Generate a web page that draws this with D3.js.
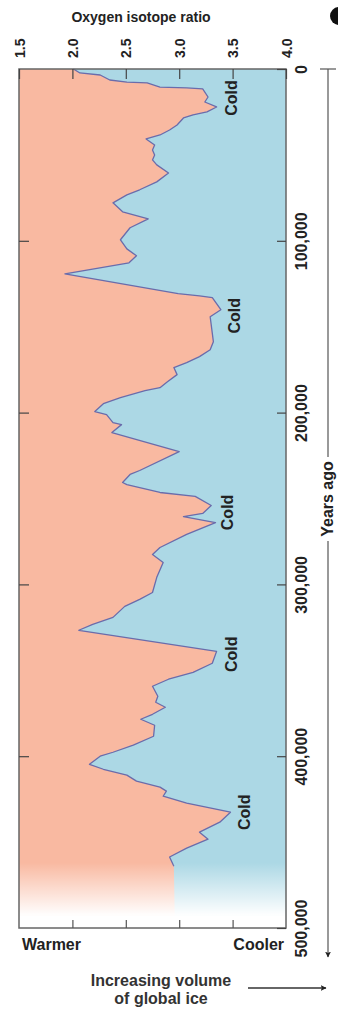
<!DOCTYPE html>
<html>
<head>
<meta charset="utf-8">
<script src="https://cdn.jsdelivr.net/npm/d3@7"></script>
<style>
  body { margin: 0; background: #fff; }
  svg text { font-family: "Liberation Sans", Arial, sans-serif; font-weight: bold; fill: #222; }
</style>
</head>
<body>
<script>
// oxygen isotope record
var yearsAgo = [0, 2300, 3500, 6400, 7600, 8100, 10500, 11000, 11600, 16300, 19200, 22100, 25000, 26700,
  28500, 32600, 35500, 38400, 40700, 44200, 47100, 50000, 52900, 55800, 60500, 65700, 70300, 73300,
  77900, 83100, 87200, 92400, 99400, 104700, 108700, 112800, 119200, 130800, 132000, 133100, 140100,
  144200, 158700, 163400, 167400, 170900, 173800, 177900, 182000, 185500, 187200, 191300, 194800,
  199400, 201200, 205800, 207000, 211600, 222700, 233700, 236000, 240700, 241900, 246500, 248800,
  254100, 258700, 260500, 264000, 270900, 278500, 282600, 287200, 295900, 304700, 308700, 312800,
  319200, 323300, 326700, 339000, 345900, 351200, 355200, 359300, 365100, 368600, 371500, 375600,
  378500, 382000, 388400, 393600, 397700, 400000, 404700, 407600, 411000, 414500, 418000, 420300,
  423300, 427300, 432600, 438400, 444200, 448300, 453500, 458700, 464000];
var isoRatio = [2.01, 2.07, 2.26, 2.35, 2.51, 2.70, 2.82, 3.07, 3.22, 3.27, 3.24, 3.35, 3.26, 3.13,
  3.04, 2.98, 2.91, 2.82, 2.69, 2.77, 2.75, 2.77, 2.75, 2.79, 2.90, 2.79, 2.63, 2.51,
  2.38, 2.47, 2.71, 2.54, 2.45, 2.51, 2.60, 2.53, 1.93, 2.99, 3.19, 3.31, 3.39,
  3.29, 3.32, 3.29, 3.19, 3.07, 2.95, 2.98, 2.89, 2.82, 2.68, 2.45, 2.29,
  2.21, 2.32, 2.38, 2.46, 2.37, 3.00, 2.63, 2.54, 2.47, 2.51, 2.82, 3.15,
  3.30, 3.22, 3.04, 3.34, 3.07, 2.82, 2.75, 2.85, 2.79, 2.75, 2.63, 2.49,
  2.38, 2.19, 2.06, 3.35, 3.31, 3.13, 2.90, 2.75, 2.80, 2.78, 2.87, 2.75,
  2.64, 2.77, 2.76, 2.57, 2.38, 2.26, 2.16, 2.29, 2.51, 2.60, 2.82, 2.88,
  2.85, 3.07, 3.48, 3.38, 3.19, 3.27, 3.07, 2.91, 2.95];

// "Cold" peaks (label centre along the time axis, baseline on the ratio axis)
var coldYears = [16900, 143600, 258100, 340700, 432600];
var coldRatio = [3.54, 3.57, 3.50, 3.54, 3.66];

var ratioTicks = [1.5, 2.0, 2.5, 3.0, 3.5, 4.0];
var yearTicks = [0, 100000, 200000, 300000, 400000, 500000];

var W = 338, H = 1012;
var box = {left: 19, right: 286, top: 69, bottom: 928};

var svg = d3.select('body').append('svg')
  .attr('width', W)
  .attr('height', H);

var x = d3.scaleLinear().domain([1.5, 4.0]).range([box.left, box.right]);
var y = d3.scaleLinear().domain([0, 500000]).range([box.top, box.bottom]);

var data = yearsAgo.map((t, i) => ({t: t, r: isoRatio[i]}));
// fill runs on past the last sample down to the bottom of the frame
var fillData = data.concat([{t: 500000, r: data[data.length - 1].r + 0.01}]);

// background (cooler side)
svg.append('rect')
  .attr('x', box.left).attr('y', box.top)
  .attr('width', box.right - box.left).attr('height', box.bottom - box.top)
  .attr('fill', '#acd8e5');

// warmer side
var area = d3.area()
  .y(d => y(d.t))
  .x0(x(1.5))
  .x1(d => x(d.r));

svg.append('path')
  .datum(fillData)
  .attr('d', area)
  .attr('fill', '#f9b9a1');

var line = d3.line()
  .x(d => x(d.r))
  .y(d => y(d.t));

svg.append('path')
  .datum(data)
  .attr('d', line)
  .attr('fill', 'none')
  .attr('stroke', '#6a6cab')
  .attr('stroke-width', 1.3)
  .attr('stroke-linejoin', 'round');

// fade out to white at the bottom
var defs = svg.append('defs');
var grad = defs.append('linearGradient')
  .attr('id', 'fade')
  .attr('x1', 0).attr('y1', 0).attr('x2', 0).attr('y2', 1);
grad.append('stop').attr('offset', '0%').attr('stop-color', '#fff').attr('stop-opacity', 0);
grad.append('stop').attr('offset', '100%').attr('stop-color', '#fff').attr('stop-opacity', 1);

var fadeTop = y(462000), fadeEnd = y(493000);
svg.append('rect')
  .attr('x', box.left).attr('y', fadeTop)
  .attr('width', box.right - box.left).attr('height', fadeEnd - fadeTop)
  .attr('fill', 'url(#fade)');
svg.append('rect')
  .attr('x', box.left).attr('y', fadeEnd)
  .attr('width', box.right - box.left).attr('height', box.bottom - fadeEnd)
  .attr('fill', '#fff');

// frame
svg.append('rect')
  .attr('x', box.left).attr('y', box.top)
  .attr('width', box.right - box.left).attr('height', box.bottom - box.top)
  .attr('fill', 'none')
  .attr('stroke', '#666')
  .attr('stroke-width', 1.5);

// axes
var topAxis = svg.append('g')
  .attr('transform', `translate(0,${box.top})`)
  .call(d3.axisTop(x).tickValues(ratioTicks).tickSize(-10).tickFormat(d3.format('.1f')));
topAxis.select('.domain').remove();
topAxis.selectAll('line').attr('stroke', '#444').attr('stroke-width', 1.2);
topAxis.selectAll('text')
  .attr('transform', 'rotate(-90)')
  .attr('x', 11).attr('y', 5).attr('dy', null)
  .attr('text-anchor', 'start')
  .style('font-size', '14px');

var rightAxis = svg.append('g')
  .attr('transform', `translate(${box.right},0)`)
  .call(d3.axisRight(y).tickValues(yearTicks).tickSize(-9).tickFormat(d3.format(',')));
rightAxis.select('.domain').remove();
rightAxis.selectAll('line').attr('stroke', '#444').attr('stroke-width', 1.2);
rightAxis.selectAll('text')
  .attr('transform', 'rotate(-90)')
  .attr('x', 0).attr('y', 21).attr('dy', null)
  .attr('text-anchor', 'middle')
  .style('font-size', '16px');

var leftAxis = svg.append('g')
  .attr('transform', `translate(${box.left},0)`)
  .call(d3.axisLeft(y).tickValues(yearTicks.slice(1, 5)).tickSize(-10).tickFormat(''));
leftAxis.select('.domain').remove();
leftAxis.selectAll('line').attr('stroke', '#444').attr('stroke-width', 1.2);

var bottomAxis = svg.append('g')
  .attr('transform', `translate(0,${box.bottom})`)
  .call(d3.axisBottom(x).tickValues(ratioTicks.slice(1, 5)).tickSize(-8).tickFormat(''));
bottomAxis.select('.domain').remove();
bottomAxis.selectAll('line').attr('stroke', '#555').attr('stroke-width', 1.2);

// title
svg.append('text')
  .attr('x', 141).attr('y', 22)
  .attr('text-anchor', 'middle')
  .style('font-size', '14px')
  .text('Oxygen isotope ratio');

// cold labels
coldYears.forEach((t, i) => {
  svg.append('text')
    .attr('transform', `translate(${x(coldRatio[i])},${y(t)}) rotate(-90)`)
    .attr('text-anchor', 'middle')
    .style('font-size', '16px')
    .text('Cold');
});

svg.append('text')
  .attr('x', 22).attr('y', 950)
  .style('font-size', '16px')
  .text('Warmer');
svg.append('text')
  .attr('x', 284).attr('y', 950)
  .attr('text-anchor', 'end')
  .style('font-size', '16px')
  .text('Cooler');

svg.append('text')
  .attr('x', 161).attr('y', 986)
  .attr('text-anchor', 'middle')
  .style('font-size', '16px')
  .style('fill', '#333')
  .text('Increasing volume');
svg.append('text')
  .attr('x', 161).attr('y', 1004)
  .attr('text-anchor', 'middle')
  .style('font-size', '16px')
  .style('fill', '#333')
  .text('of global ice');

// arrows
defs.append('marker')
  .attr('id', 'arrowhead')
  .attr('viewBox', '0 0 12 12')
  .attr('refX', 11)
  .attr('refY', 6)
  .attr('markerWidth', 6)
  .attr('markerHeight', 6)
  .attr('markerUnits', 'userSpaceOnUse')
  .attr('orient', 'auto')
  .append('path')
  .attr('d', 'M 0 0 12 6 0 12 3 6')
  .style('fill', '#222');

var ax = 328;
svg.append('line')
  .attr('x1', 320).attr('x2', 336).attr('y1', box.top).attr('y2', box.top)
  .attr('stroke', '#555').attr('stroke-width', 1.2);
svg.append('line')
  .attr('x1', ax).attr('x2', ax).attr('y1', box.top).attr('y2', 457)
  .attr('stroke', '#555').attr('stroke-width', 1.2);
svg.append('line')
  .attr('x1', ax).attr('x2', ax).attr('y1', 541).attr('y2', 957)
  .attr('stroke', '#555').attr('stroke-width', 1.2)
  .attr('marker-end', 'url(#arrowhead)');
svg.append('text')
  .attr('transform', `translate(333,499) rotate(-90)`)
  .attr('text-anchor', 'middle')
  .style('font-size', '16px')
  .text('Years ago');

svg.append('line')
  .attr('x1', 248).attr('x2', 326).attr('y1', 988).attr('y2', 988)
  .attr('stroke', '#333').attr('stroke-width', 1.3)
  .attr('marker-end', 'url(#arrowhead)');

// cut-off mark in the corner
svg.append('circle')
  .attr('cx', 339).attr('cy', 16).attr('r', 9)
  .attr('fill', '#111');
</script>
</body>
</html>
